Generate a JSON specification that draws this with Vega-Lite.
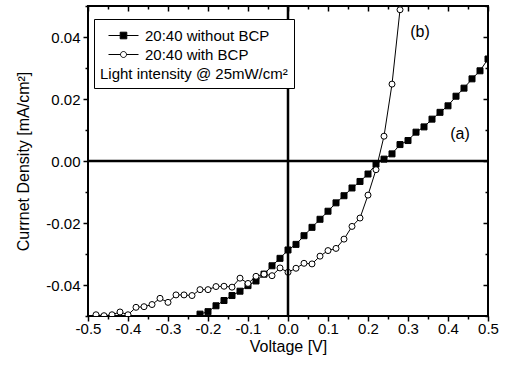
{
  "$schema": "https://vega.github.io/schema/vega-lite/v6.json",
  "width": 400,
  "height": 310,
  "autosize": {"type": "none"},
  "padding": {"left": 88, "top": 6, "right": 23, "bottom": 59},
  "background": "white",
  "config": {
    "font": "Liberation Sans",
    "view": {"stroke": "black", "strokeWidth": 2},
    "axis": {"grid": false, "domain": false, "labelFlush": false, "labelColor": "black", "titleColor": "black", "tickColor": "black", "tickWidth": 1.5, "labelFontSize": 15, "titleFontSize": 16, "titleFontWeight": "normal", "labelFont": "Liberation Sans", "titleFont": "Liberation Sans"}
  },
  "datasets": {
    "jv": [
      {"series": "20:40 without BCP", "V": -0.24, "J": -0.0515},
      {"series": "20:40 without BCP", "V": -0.22, "J": -0.0494},
      {"series": "20:40 without BCP", "V": -0.20, "J": -0.0486},
      {"series": "20:40 without BCP", "V": -0.18, "J": -0.0467},
      {"series": "20:40 without BCP", "V": -0.16, "J": -0.0450},
      {"series": "20:40 without BCP", "V": -0.14, "J": -0.0434},
      {"series": "20:40 without BCP", "V": -0.12, "J": -0.0420},
      {"series": "20:40 without BCP", "V": -0.10, "J": -0.0402},
      {"series": "20:40 without BCP", "V": -0.08, "J": -0.0387},
      {"series": "20:40 without BCP", "V": -0.06, "J": -0.0365},
      {"series": "20:40 without BCP", "V": -0.04, "J": -0.0338},
      {"series": "20:40 without BCP", "V": -0.02, "J": -0.0314},
      {"series": "20:40 without BCP", "V": 0.00, "J": -0.0287},
      {"series": "20:40 without BCP", "V": 0.02, "J": -0.0269},
      {"series": "20:40 without BCP", "V": 0.04, "J": -0.0241},
      {"series": "20:40 without BCP", "V": 0.06, "J": -0.0214},
      {"series": "20:40 without BCP", "V": 0.08, "J": -0.0188},
      {"series": "20:40 without BCP", "V": 0.10, "J": -0.0162},
      {"series": "20:40 without BCP", "V": 0.12, "J": -0.0135},
      {"series": "20:40 without BCP", "V": 0.14, "J": -0.0112},
      {"series": "20:40 without BCP", "V": 0.16, "J": -0.0087},
      {"series": "20:40 without BCP", "V": 0.18, "J": -0.0066},
      {"series": "20:40 without BCP", "V": 0.20, "J": -0.0042},
      {"series": "20:40 without BCP", "V": 0.22, "J": -0.0010},
      {"series": "20:40 without BCP", "V": 0.24, "J": 0.0006},
      {"series": "20:40 without BCP", "V": 0.26, "J": 0.0023},
      {"series": "20:40 without BCP", "V": 0.28, "J": 0.0053},
      {"series": "20:40 without BCP", "V": 0.30, "J": 0.0066},
      {"series": "20:40 without BCP", "V": 0.32, "J": 0.0093},
      {"series": "20:40 without BCP", "V": 0.34, "J": 0.0110},
      {"series": "20:40 without BCP", "V": 0.36, "J": 0.0135},
      {"series": "20:40 without BCP", "V": 0.38, "J": 0.0157},
      {"series": "20:40 without BCP", "V": 0.40, "J": 0.0178},
      {"series": "20:40 without BCP", "V": 0.42, "J": 0.0209},
      {"series": "20:40 without BCP", "V": 0.44, "J": 0.0235},
      {"series": "20:40 without BCP", "V": 0.46, "J": 0.0265},
      {"series": "20:40 without BCP", "V": 0.48, "J": 0.0291},
      {"series": "20:40 without BCP", "V": 0.50, "J": 0.0329},
      {"series": "20:40 with BCP", "V": -0.48, "J": -0.0496},
      {"series": "20:40 with BCP", "V": -0.46, "J": -0.0499},
      {"series": "20:40 with BCP", "V": -0.44, "J": -0.0496},
      {"series": "20:40 with BCP", "V": -0.42, "J": -0.0487},
      {"series": "20:40 with BCP", "V": -0.40, "J": -0.0496},
      {"series": "20:40 with BCP", "V": -0.38, "J": -0.0472},
      {"series": "20:40 with BCP", "V": -0.36, "J": -0.0470},
      {"series": "20:40 with BCP", "V": -0.34, "J": -0.0463},
      {"series": "20:40 with BCP", "V": -0.32, "J": -0.0443},
      {"series": "20:40 with BCP", "V": -0.30, "J": -0.0456},
      {"series": "20:40 with BCP", "V": -0.28, "J": -0.0432},
      {"series": "20:40 with BCP", "V": -0.26, "J": -0.0432},
      {"series": "20:40 with BCP", "V": -0.24, "J": -0.0434},
      {"series": "20:40 with BCP", "V": -0.22, "J": -0.0415},
      {"series": "20:40 with BCP", "V": -0.20, "J": -0.0415},
      {"series": "20:40 with BCP", "V": -0.18, "J": -0.0405},
      {"series": "20:40 with BCP", "V": -0.16, "J": -0.0404},
      {"series": "20:40 with BCP", "V": -0.14, "J": -0.0407},
      {"series": "20:40 with BCP", "V": -0.12, "J": -0.0378},
      {"series": "20:40 with BCP", "V": -0.10, "J": -0.0395},
      {"series": "20:40 with BCP", "V": -0.08, "J": -0.0372},
      {"series": "20:40 with BCP", "V": -0.06, "J": -0.0365},
      {"series": "20:40 with BCP", "V": -0.04, "J": -0.0370},
      {"series": "20:40 with BCP", "V": -0.02, "J": -0.0345},
      {"series": "20:40 with BCP", "V": 0.00, "J": -0.0359},
      {"series": "20:40 with BCP", "V": 0.02, "J": -0.0346},
      {"series": "20:40 with BCP", "V": 0.04, "J": -0.0330},
      {"series": "20:40 with BCP", "V": 0.06, "J": -0.0332},
      {"series": "20:40 with BCP", "V": 0.08, "J": -0.0307},
      {"series": "20:40 with BCP", "V": 0.10, "J": -0.0289},
      {"series": "20:40 with BCP", "V": 0.12, "J": -0.0282},
      {"series": "20:40 with BCP", "V": 0.14, "J": -0.0252},
      {"series": "20:40 with BCP", "V": 0.16, "J": -0.0211},
      {"series": "20:40 with BCP", "V": 0.18, "J": -0.0184},
      {"series": "20:40 with BCP", "V": 0.20, "J": -0.0110},
      {"series": "20:40 with BCP", "V": 0.22, "J": -0.0028},
      {"series": "20:40 with BCP", "V": 0.24, "J": 0.0080},
      {"series": "20:40 with BCP", "V": 0.26, "J": 0.0248},
      {"series": "20:40 with BCP", "V": 0.28, "J": 0.0488},
      {"series": "20:40 with BCP", "V": 0.30, "J": 0.0730}
    ],
    "notes": [
      {"V": 0.33, "J": 0.0415, "text": "(b)"},
      {"V": 0.43, "J": 0.0087, "text": "(a)"}
    ]
  },
  "resolve": {"axis": {"x": "independent", "y": "independent"}},
  "layer": [
    {
      "data": {"name": "jv"},
      "mark": {"type": "line", "color": "black", "strokeWidth": 1, "clip": true},
      "encoding": {
        "x": {"field": "V", "type": "quantitative", "scale": {"domain": [-0.5, 0.5], "nice": false, "zero": false},
          "axis": {"orient": "bottom", "title": "Voltage [V]", "titlePadding": 2,
            "values": [-0.5, -0.45, -0.4, -0.35, -0.3, -0.25, -0.2, -0.15, -0.1, -0.05, 0, 0.05, 0.1, 0.15, 0.2, 0.25, 0.3, 0.35, 0.4, 0.45, 0.5],
            "format": ".1f",
            "labelExpr": "abs(round(datum.value*10) - datum.value*10) < 0.001 ? replace(datum.label, '\u2212', '-') : ''",
            "labelPadding": 0,
            "tickSize": {"condition": {"test": "abs(round(datum.value*10) - datum.value*10) < 0.001", "value": 5}, "value": 3}}},
        "y": {"field": "J", "type": "quantitative", "scale": {"domain": [-0.05, 0.05], "nice": false, "zero": false},
          "axis": {"orient": "left", "title": "Currnet Density [mA/cm\u00b2]", "titlePadding": 14,
            "values": [-0.05, -0.04, -0.03, -0.02, -0.01, 0, 0.01, 0.02, 0.03, 0.04, 0.05],
            "format": ".2f",
            "labelExpr": "abs(round(datum.value*50) - datum.value*50) < 0.001 && abs(datum.value) < 0.045 ? replace(datum.label, '\u2212', '-') : ''",
            "labelPadding": 3,
            "tickSize": {"condition": {"test": "abs(round(datum.value*50) - datum.value*50) < 0.001", "value": 5}, "value": 3}}},
        "detail": {"field": "series"}
      }
    },
    {
      "data": {"name": "jv"},
      "transform": [{"filter": "datum.series === '20:40 without BCP'"}],
      "mark": {"type": "point", "shape": "square", "filled": true, "fill": "black", "stroke": "black", "strokeWidth": 1, "size": 36, "clip": true, "opacity": 1},
      "encoding": {
        "x": {"field": "V", "type": "quantitative",
          "axis": {"orient": "top", "title": null, "labels": false,
            "values": [-0.5, -0.45, -0.4, -0.35, -0.3, -0.25, -0.2, -0.15, -0.1, -0.05, 0, 0.05, 0.1, 0.15, 0.2, 0.25, 0.3, 0.35, 0.4, 0.45, 0.5],
            "tickSize": {"condition": {"test": "abs(round(datum.value*10) - datum.value*10) < 0.001", "value": -5}, "value": -3}}},
        "y": {"field": "J", "type": "quantitative",
          "axis": {"orient": "right", "title": null, "labels": false,
            "values": [-0.05, -0.04, -0.03, -0.02, -0.01, 0, 0.01, 0.02, 0.03, 0.04, 0.05],
            "tickSize": {"condition": {"test": "abs(round(datum.value*50) - datum.value*50) < 0.001", "value": -5}, "value": -3}}}
      }
    },
    {
      "data": {"name": "jv"},
      "transform": [{"filter": "datum.series === '20:40 with BCP'"}],
      "mark": {"type": "point", "shape": "circle", "filled": true, "fill": "white", "stroke": "black", "strokeWidth": 1, "size": 36, "clip": true, "opacity": 1},
      "encoding": {
        "x": {"field": "V", "type": "quantitative", "axis": null},
        "y": {"field": "J", "type": "quantitative", "axis": null}
      }
    },
    {
      "data": {"values": []},
      "mark": {"type": "point", "filled": true, "stroke": "black", "strokeWidth": 1, "size": 400, "opacity": 1},
      "encoding": {
        "shape": {"field": "series", "type": "nominal", "scale": {"domain": ["20:40 without BCP", "20:40 with BCP"], "range": ["M-1.5,0H-0.33M0.33,0H1.5M-0.33,-0.33H0.33V0.33H-0.33Z", "M-1.5,0H-0.3M0.3,0H1.5M-0.3,0A0.3,0.3,0,1,0,0.3,0A0.3,0.3,0,1,0,-0.3,0Z"]}, "legend": {"title": "Light intensity @ 25mW/cm\u00b2"}},
        "fill": {"field": "series", "type": "nominal", "scale": {"domain": ["20:40 without BCP", "20:40 with BCP"], "range": ["black", "white"]},
          "legend": {
            "title": "Light intensity @ 25mW/cm\u00b2",
            "orient": "none", "legendX": 6, "legendY": 13,
            "titleOrient": "bottom", "titleAnchor": "start", "titleFontWeight": "normal", "titleFontSize": 15, "titleColor": "black", "titlePadding": 4, "titleLimit": 400,
            "labelFontSize": 15, "labelColor": "black", "labelOffset": 11, "labelLimit": 400,
            "strokeColor": "black", "fillColor": "white", "padding": 6,
            "symbolSize": 400, "symbolStrokeColor": "black", "symbolStrokeWidth": 1, "symbolOffset": 13,
            "rowPadding": 0
          }}
      }
    },
    {
      "data": {"values": [{"z": 0}]},
      "mark": {"type": "rule", "color": "black", "strokeWidth": 2.5},
      "encoding": {"y": {"datum": 0, "type": "quantitative", "axis": null}}
    },
    {
      "data": {"values": [{"z": 0}]},
      "mark": {"type": "rule", "color": "black", "strokeWidth": 2.5},
      "encoding": {"x": {"datum": 0, "type": "quantitative", "axis": null}}
    },
    {
      "data": {"name": "notes"},
      "mark": {"type": "text", "fontSize": 16, "color": "black", "font": "Liberation Sans"},
      "encoding": {
        "x": {"field": "V", "type": "quantitative", "axis": null},
        "y": {"field": "J", "type": "quantitative", "axis": null},
        "text": {"field": "text"}
      }
    }
  ]
}
